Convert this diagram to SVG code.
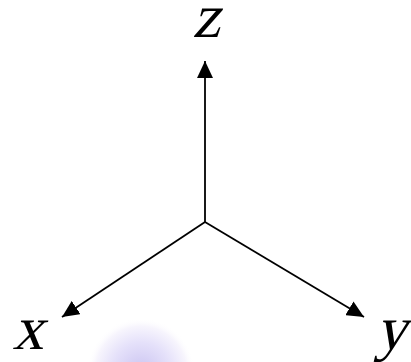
<svg xmlns="http://www.w3.org/2000/svg" width="411" height="362" viewBox="0 0 411 362">
<style>
.ax{stroke:#000;stroke-width:1.8;fill:none;marker-end:url(#ah)}
.lb{font-family:"Liberation Serif","Times New Roman",serif;font-size:62px;fill:#000;text-anchor:middle}
</style>
<defs>
<marker id="ah" markerUnits="userSpaceOnUse" markerWidth="18" markerHeight="16" refX="17" refY="8" orient="auto">
<path d="M0,0 L17,8 L0,16 Z" fill="#000"/>
</marker>
<radialGradient id="blob" cx="0.5" cy="0.5" r="0.5">
<stop offset="0" stop-color="#cac3f1"/>
<stop offset="0.55" stop-color="#e5e1fa"/>
<stop offset="0.85" stop-color="#f7f5fd"/>
<stop offset="1" stop-color="#ffffff" stop-opacity="0"/>
</radialGradient>
</defs>
<rect width="411" height="362" fill="#fff"/>
<circle cx="141" cy="372" r="54" fill="url(#blob)"/>
<g id="connectors">
<line class="ax" x1="205" y1="222" x2="205" y2="61"/>
<line class="ax" x1="205" y1="222" x2="62" y2="317"/>
<line class="ax" x1="205" y1="222" x2="364" y2="317"/>
</g>
<g id="z"><text class="lb" transform="translate(206,37) skewX(-14)">z</text></g>
<g id="x"><text class="lb" transform="translate(28,349) skewX(-14)">x</text></g>
<g id="y"><text class="lb" transform="translate(391,349) skewX(-14)">y</text></g>
</svg>
